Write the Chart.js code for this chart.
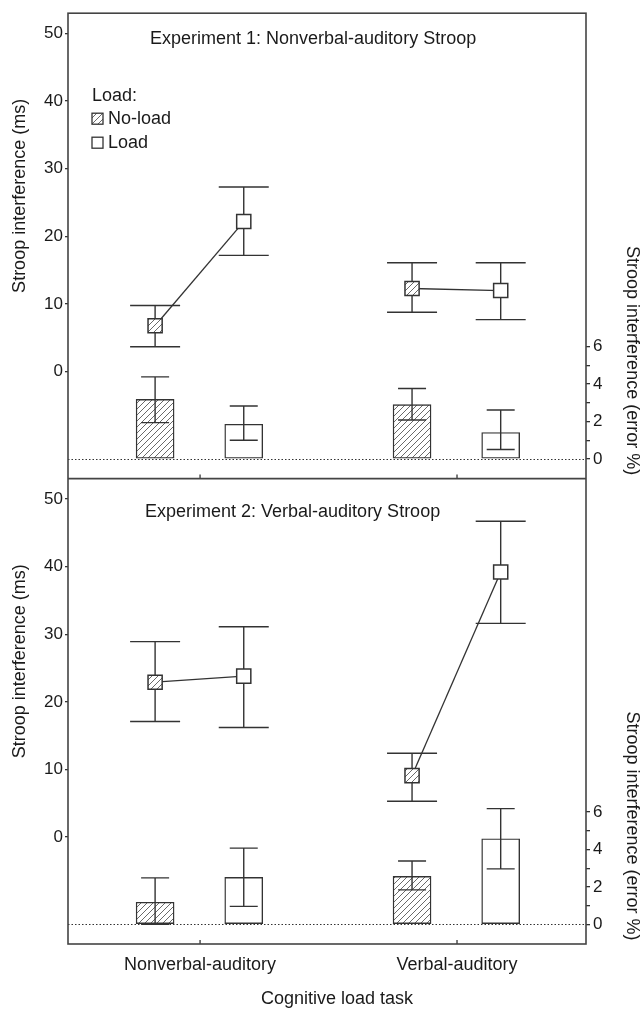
<!DOCTYPE html>
<html>
<head>
<meta charset="utf-8">
<script src="https://cdn.jsdelivr.net/npm/chart.js@4.4.1/dist/chart.umd.min.js"></script>
<style>
  html, body { margin: 0; padding: 0; background: #fff; }
</style>
</head>
<body>
<canvas id="chart" width="643" height="1010"></canvas>
<script>
const tasks = ["Nonverbal-auditory", "Verbal-auditory"];
const loadLevels = ["No-load", "Load"];

// order in every array: nonverbal no-load, nonverbal load, verbal no-load, verbal load
const exp1RT = [6.8, 22.2, 12.3, 12.0];
const exp1RTLow = [3.7, 17.2, 8.8, 7.7];
const exp1RTHigh = [9.8, 27.3, 16.1, 16.1];
const exp1Err = [3.18, 1.85, 2.9, 1.41];
const exp1ErrLow = [1.94, 1.0, 2.08, 0.5];
const exp1ErrHigh = [4.38, 2.83, 3.76, 2.61];

const exp2RT = [22.9, 23.8, 9.1, 39.2];
const exp2RTLow = [17.1, 16.2, 5.3, 31.6];
const exp2RTHigh = [28.9, 31.1, 12.4, 46.7];
const exp2Err = [1.18, 2.51, 2.56, 4.57];
const exp2ErrLow = [0.0, 0.96, 1.84, 2.96];
const exp2ErrHigh = [2.48, 4.07, 3.38, 6.18];

const msTicks = [0, 10, 20, 30, 40, 50];
const pctTicks = [0, 1, 2, 3, 4, 5, 6];

const FONT = '"Liberation Sans", Arial, sans-serif';
const INK = "#333";
const TEXT = "#1a1a1a";

const canvas = document.getElementById("chart");
const ctx = canvas.getContext("2d");

// grey diagonal hatching for the no-load condition
function makeHatch() {
  const c = document.createElement("canvas");
  c.width = 6;
  c.height = 6;
  const g = c.getContext("2d");
  g.fillStyle = "#fff";
  g.fillRect(0, 0, 6, 6);
  g.strokeStyle = "#6a6a6a";
  g.lineWidth = 1;
  g.beginPath();
  g.moveTo(-1, 7); g.lineTo(7, -1);
  g.moveTo(-4, 4); g.lineTo(4, -4);
  g.moveTo(2, 10); g.lineTo(10, 2);
  g.stroke();
  return ctx.createPattern(c, "repeat");
}
const hatch = makeHatch();
const fills = [hatch, "#fff", hatch, "#fff"];

// x position of a cell: task index + small shift for no-load / load
function xPos(i) {
  return Math.floor(i / 2) + 1 + (i % 2 ? 0.17 : -0.175);
}

function barSet(values, axis) {
  return {
    type: "bar",
    data: values.map((v, i) => ({ x: xPos(i), y: v })),
    yAxisID: axis,
    backgroundColor: fills,
    borderColor: INK,
    borderWidth: 1.4,
    borderSkipped: false,
    barThickness: 38,
    grouped: false,
    order: 2,
  };
}

function lineSet(values, axis, task) {
  const idx = [task * 2, task * 2 + 1];
  return {
    type: "line",
    data: idx.map((i) => ({ x: xPos(i), y: values[i] })),
    yAxisID: axis,
    borderColor: INK,
    borderWidth: 1.3,
    pointStyle: "rect",
    pointRadius: 10,
    pointHoverRadius: 10,
    pointBackgroundColor: [hatch, "#fff"],
    pointBorderColor: INK,
    pointBorderWidth: 1.5,
    order: 1,
  };
}

const panels = [
  { ms: "y1", pct: "r1", rt: exp1RT, rtLo: exp1RTLow, rtHi: exp1RTHigh, err: exp1Err, errLo: exp1ErrLow, errHi: exp1ErrHigh },
  { ms: "y2", pct: "r2", rt: exp2RT, rtLo: exp2RTLow, rtHi: exp2RTHigh, err: exp2Err, errLo: exp2ErrLow, errHi: exp2ErrHigh },
];

function errBar(c, x, yLo, yHi, half) {
  c.beginPath();
  c.moveTo(x, yLo); c.lineTo(x, yHi);
  c.moveTo(x - half, yLo); c.lineTo(x + half, yLo);
  c.moveTo(x - half, yHi); c.lineTo(x + half, yHi);
  c.stroke();
}

const decor = {
  id: "decor",
  beforeDatasetsDraw(chart) {
    const c = chart.ctx;
    const xs = chart.scales.x;
    c.save();
    c.strokeStyle = INK;
    c.lineWidth = 1.4;
    panels.forEach((p) => {
      const ys = chart.scales[p.ms];
      p.rt.forEach((v, i) => {
        errBar(c, xs.getPixelForValue(xPos(i)), ys.getPixelForValue(p.rtLo[i]), ys.getPixelForValue(p.rtHi[i]), 25);
      });
    });
    c.restore();
  },
  afterDatasetsDraw(chart) {
    const c = chart.ctx;
    const xs = chart.scales.x;
    const a = chart.chartArea;
    const mid = chart.scales.y1.bottom;
    c.save();
    c.strokeStyle = INK;
    c.lineWidth = 1.4;
    panels.forEach((p) => {
      const ys = chart.scales[p.pct];
      p.err.forEach((v, i) => {
        errBar(c, xs.getPixelForValue(xPos(i)), ys.getPixelForValue(p.errLo[i]), ys.getPixelForValue(p.errHi[i]), 14);
      });
      // dotted zero line of the error axis
      const z = Math.round(ys.getPixelForValue(0)) + 0.5;
      c.save();
      c.lineWidth = 1;
      c.setLineDash([1.5, 2]);
      c.beginPath();
      c.moveTo(a.left, z); c.lineTo(a.right, z);
      c.stroke();
      c.restore();
    });

    // frame and divider
    c.strokeStyle = "#444";
    c.lineWidth = 1.6;
    c.strokeRect(a.left, a.top, a.right - a.left, a.bottom - a.top);
    c.beginPath();
    c.moveTo(a.left, mid); c.lineTo(a.right, mid);
    c.stroke();

    // inward category ticks at the bottom of each panel
    c.lineWidth = 1.4;
    [1, 2].forEach((v) => {
      const x = xs.getPixelForValue(v);
      [mid, a.bottom].forEach((yb) => {
        c.beginPath();
        c.moveTo(x, yb); c.lineTo(x, yb - 4);
        c.stroke();
      });
    });

    // panel titles
    c.fillStyle = TEXT;
    c.font = "18px " + FONT;
    c.textBaseline = "middle";
    c.textAlign = "left";
    c.fillText("Experiment 1: Nonverbal-auditory Stroop", a.left + 82, a.top + 26);
    c.fillText("Experiment 2: Verbal-auditory Stroop", a.left + 77, mid + 33);

    // legend
    c.fillText("Load:", a.left + 24, a.top + 83);
    const bx = a.left + 24;
    [[hatch, a.top + 100, loadLevels[0]], ["#fff", a.top + 124, loadLevels[1]]].forEach(([f, by, label]) => {
      c.fillStyle = f;
      c.fillRect(bx, by, 11, 11);
      c.strokeStyle = INK;
      c.lineWidth = 1.3;
      c.strokeRect(bx, by, 11, 11);
      c.fillStyle = TEXT;
      c.fillText(label, bx + 16, by + 6);
    });

    // axis titles
    c.textAlign = "center";
    ["y1", "y2"].forEach((id) => {
      const y = chart.scales[id].getPixelForValue(26);
      c.save();
      c.translate(20, y);
      c.rotate(-Math.PI / 2);
      c.fillText("Stroop interference (ms)", 0, 0);
      c.restore();
    });
    ["r1", "r2"].forEach((id) => {
      const y = chart.scales[id].getPixelForValue(5.25);
      c.save();
      c.translate(632, y);
      c.rotate(Math.PI / 2);
      c.fillText("Stroop interference (error %)", 0, 0);
      c.restore();
    });
    c.fillText("Cognitive load task", (a.left + a.right) / 2 + 10, chart.height - 11);
    c.restore();
  },
};

const tickFont = { family: FONT, size: 17 };

function msAxis() {
  return {
    type: "linear",
    position: "left",
    stack: "left",
    stackWeight: 1,
    min: -15.8,
    max: 53.0,
    afterBuildTicks: (s) => { s.ticks = msTicks.map((v) => ({ value: v })); },
    afterFit: (s) => { s.width = 68; },
    grid: { drawOnChartArea: false, tickLength: 3, color: INK, lineWidth: 1.3 },
    border: { display: false },
    ticks: { font: tickFont, color: TEXT, padding: 2 },
  };
}

function pctAxis() {
  return {
    type: "linear",
    position: "right",
    stack: "right",
    stackWeight: 1,
    min: -1.05,
    max: 23.8,
    afterBuildTicks: (s) => { s.ticks = pctTicks.map((v) => ({ value: v })); },
    afterFit: (s) => { s.width = 57; },
    grid: { drawOnChartArea: false, tickLength: 4, color: INK, lineWidth: 1.3 },
    border: { display: false },
    ticks: { font: tickFont, color: TEXT, padding: 3, callback: (v) => (v % 2 === 0 ? v : "") },
  };
}

new Chart(ctx, {
  type: "bar",
  data: {
    datasets: [
      barSet(exp1Err, "r1"),
      barSet(exp2Err, "r2"),
      lineSet(exp1RT, "y1", 0),
      lineSet(exp1RT, "y1", 1),
      lineSet(exp2RT, "y2", 0),
      lineSet(exp2RT, "y2", 1),
    ],
  },
  options: {
    responsive: false,
    animation: false,
    devicePixelRatio: 1,
    layout: { padding: { top: 8, left: 0, right: 0, bottom: 0 } },
    plugins: {
      legend: { display: false },
      tooltip: { enabled: false },
    },
    scales: {
      x: {
        type: "linear",
        offset: false,
        min: 0.486,
        max: 2.502,
        afterBuildTicks: (s) => { s.ticks = [{ value: 1 }, { value: 2 }]; },
        afterFit: (s) => { s.height = 66; },
        grid: { display: false, drawTicks: false, offset: false },
        border: { display: false },
        ticks: {
          font: { family: FONT, size: 18 },
          color: TEXT,
          padding: 10,
          maxRotation: 0,
          autoSkip: false,
          callback: (v) => tasks[v - 1] || "",
        },
      },
      // left-hand stacked axes are laid out bottom-up, right-hand ones top-down
      y2: msAxis(),
      y1: msAxis(),
      r1: pctAxis(),
      r2: pctAxis(),
    },
  },
  plugins: [decor],
});
</script>
</body>
</html>
